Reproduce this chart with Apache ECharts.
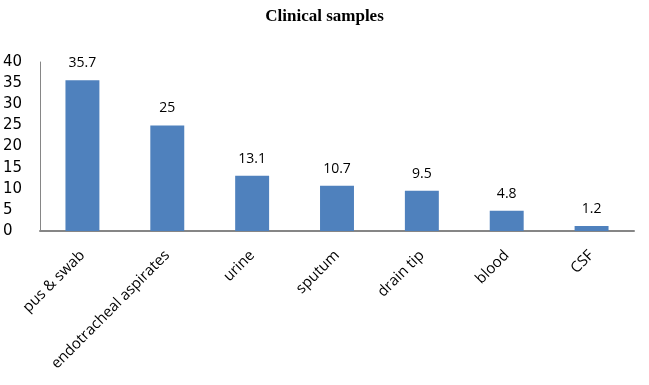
<!DOCTYPE html>
<html><head><meta charset="utf-8">
<script src="https://cdn.jsdelivr.net/npm/echarts@6/dist/echarts.min.js"></script>
<style>html,body{margin:0;padding:0;background:#fff}#c{width:649px;height:385px}</style>
</head><body><div id="c"></div>
<script>
var categories = ["pus & swab","endotracheal aspirates","urine","sputum","drain tip","blood","CSF"];
var values = [35.7, 25, 13.1, 10.7, 9.5, 4.8, 1.2];
var yTicks = [0,5,10,15,20,25,30,35,40];
var chart = echarts.init(document.getElementById('c'));
chart.setOption({
  animation:false,
  title:{text:'Clinical samples',left:'center',top:3,textStyle:{fontFamily:'Liberation Serif',fontWeight:'bold',fontSize:17,color:'#000'}},
  grid:{left:40,right:15,top:62,bottom:154},
  xAxis:{type:'category',data:categories,
    axisLine:{lineStyle:{color:'#868686',width:2}},axisTick:{show:false},
    axisLabel:{rotate:45,interval:0,fontFamily:'Open Sans',fontSize:15,color:'#000',margin:22}},
  yAxis:{type:'value',min:0,max:40,interval:5,
    axisLine:{show:true,lineStyle:{color:'#868686',width:1}},axisTick:{show:false},splitLine:{show:false},
    axisLabel:{fontFamily:'DejaVu Sans',fontSize:15,color:'#000',align:'left',margin:37,
      formatter:function(v){return yTicks.indexOf(v)>=0?String(v):'';}}},
  series:[{type:'bar',data:values,barWidth:'40%',itemStyle:{color:'#4F81BD'},
    label:{show:true,position:'top',distance:10,fontFamily:'Open Sans',fontSize:14,color:'#000'}}]
});
</script></body></html>
